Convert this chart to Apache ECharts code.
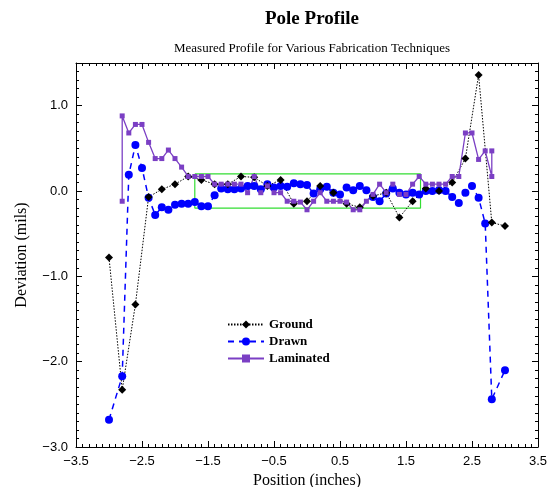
<!DOCTYPE html>
<html>
<head>
    <meta charset="utf-8" />
    <title>Pole Profile</title>
    <script src="https://cdn.jsdelivr.net/npm/echarts@6/dist/echarts.min.js"></script>
    <style>
        html, body { margin: 0; padding: 0; background: #fff; }
        #chart { width: 548px; height: 487px; }
    </style>
</head>
<body>
    <div id="chart"></div>
    <script type="text/javascript">
        // Ground: every 0.2 in
        var groundX = [-3.0, -2.8, -2.6, -2.4, -2.2, -2.0, -1.8, -1.6, -1.4, -1.2, -1.0, -0.8, -0.6, -0.4, -0.2,
            0.0, 0.2, 0.4, 0.6, 0.8, 1.0, 1.2, 1.4, 1.6, 1.8, 2.0, 2.2, 2.4, 2.6, 2.8, 3.0];
        var groundY = [-0.78, -2.33, -1.33, -0.07, 0.02, 0.08, 0.17, 0.13, 0.08, 0.08, 0.17, 0.16, 0.06, 0.13, -0.15,
            -0.12, 0.06, -0.02, -0.15, -0.19, -0.06, -0.02, -0.31, -0.12, 0.03, 0.0, 0.10, 0.38, 1.36, -0.37, -0.41];

        // Drawn: every 0.1 in the middle
        var drawnX = [-3.0, -2.8, -2.7, -2.6, -2.5, -2.4, -2.3, -2.2, -2.1, -2.0, -1.9, -1.8, -1.7, -1.6, -1.5, -1.4,
            -1.3, -1.2, -1.1, -1.0, -0.9, -0.8, -0.7, -0.6, -0.5, -0.4, -0.3, -0.2, -0.1, 0.0,
            0.1, 0.2, 0.3, 0.4, 0.5, 0.6, 0.7, 0.8, 0.9, 1.0, 1.1, 1.2, 1.3, 1.4, 1.5, 1.6, 1.7,
            1.8, 1.9, 2.0, 2.1, 2.2, 2.3, 2.4, 2.5, 2.6, 2.7, 2.8, 3.0];
        var drawnY = [-2.68, -2.17, 0.19, 0.54, 0.27, -0.08, -0.28, -0.19, -0.22, -0.16, -0.15, -0.15, -0.13, -0.18, -0.18, -0.05,
            0.03, 0.02, 0.02, 0.03, 0.06, 0.06, 0.02, 0.08, 0.04, 0.06, 0.05, 0.09, 0.08, 0.07,
            -0.03, 0.02, 0.05, -0.02, -0.04, 0.04, 0.01, 0.06, 0.01, -0.07, -0.12, -0.03, 0.03, -0.02, -0.04, -0.02, -0.04,
            0.0, 0.0, 0.01, 0.0, -0.07, -0.14, -0.02, 0.06, -0.08, -0.38, -2.44, -2.10];

        // Laminated
        var lamX = [-2.8, -2.8, -2.7, -2.6, -2.5, -2.4, -2.3, -2.2, -2.1, -2.0, -1.9, -1.8, -1.7, -1.6, -1.5, -1.4,
            -1.3, -1.2, -1.1, -1.0, -0.9, -0.8, -0.7, -0.6, -0.5, -0.4, -0.3, -0.2, -0.1, 0.0,
            0.1, 0.2, 0.3, 0.4, 0.5, 0.6, 0.7, 0.8, 0.9, 1.0, 1.1, 1.2, 1.3, 1.4, 1.5, 1.6, 1.7,
            1.8, 1.9, 2.0, 2.1, 2.2, 2.3, 2.4, 2.5, 2.6, 2.7, 2.8, 2.8];
        var lamY = [-0.12, 0.88, 0.68, 0.78, 0.78, 0.57, 0.38, 0.38, 0.48, 0.38, 0.28, 0.17, 0.17, 0.17, 0.17, 0.08,
            0.08, 0.08, 0.08, 0.08, -0.02, 0.17, -0.02, 0.06, -0.02, -0.02, -0.12, -0.12, -0.13, -0.22,
            -0.12, -0.02, -0.12, -0.12, -0.12, -0.13, -0.22, -0.22, -0.12, -0.04, 0.08, -0.02, 0.08, -0.04, -0.04, 0.08, 0.17,
            0.08, 0.08, 0.08, 0.08, 0.17, 0.17, 0.68, 0.68, 0.37, 0.47, 0.17, 0.47];

        // tolerance band
        var bandX = [-1.7, 1.72, 1.72, -1.7, -1.7];
        var bandY = [0.2, 0.2, -0.2, -0.2, 0.2];

        var xLabels = [-3.5, -2.5, -1.5, -0.5, 0.5, 1.5, 2.5, 3.5];

        function pairs(xs, ys) {
            return xs.map(function (x, i) { return [x, ys[i]]; });
        }
        function fmt(v) {
            return v.toFixed(1).replace('-', '\u2212');
        }

        var serif = '"Liberation Serif", "DejaVu Serif", serif';
        var sans = '"Liberation Sans", Arial, sans-serif';

        var lineStyle = { show: true, onZero: false, lineStyle: { color: '#000', width: 1 } };
        var tickStyle = { show: true, inside: true, length: 6, lineStyle: { color: '#000', width: 1 } };
        var minorStyle = { show: true, splitNumber: 10, length: 3, lineStyle: { color: '#000', width: 1 } };

        var chart = echarts.init(document.getElementById('chart'), null, { renderer: 'canvas' });
        chart.setOption({
            animation: false,
            backgroundColor: '#fff',
            title: [{
                text: 'Pole Profile',
                left: 307, top: 5, textAlign: 'center',
                textStyle: { fontFamily: serif, fontSize: 19, fontWeight: 'bold', color: '#000' }
            }, {
                text: 'Measured Profile for Various Fabrication Techniques',
                left: 307, top: 37, textAlign: 'center',
                textStyle: { fontFamily: serif, fontSize: 13, fontWeight: 'normal', color: '#000' }
            }],
            grid: { left: 76, right: 10, top: 63, bottom: 40, containLabel: false, outerBoundsMode: 'none' },
            legend: {
                data: ['Ground', 'Drawn', 'Laminated'],
                orient: 'vertical',
                left: 222, top: 313,
                itemWidth: 36, itemHeight: 10, itemGap: 4,
                textStyle: { fontFamily: serif, fontSize: 13, fontWeight: 'bold', color: '#000' }
            },
            xAxis: [{
                type: 'value', min: -3.5, max: 3.5, interval: 1,
                name: 'Position (inches)', nameLocation: 'middle', nameGap: 23,
                nameTextStyle: { fontFamily: serif, fontSize: 16, color: '#000' },
                axisLine: lineStyle,
                axisTick: tickStyle, minorTick: minorStyle,
                splitLine: { show: false },
                axisLabel: {
                    margin: 8, fontFamily: sans, fontSize: 13, color: '#000',
                    customValues: xLabels, formatter: fmt
                }
            }, {
                type: 'value', position: 'top', min: -3.5, max: 3.5, interval: 1,
                axisLine: lineStyle,
                axisTick: tickStyle, minorTick: minorStyle,
                splitLine: { show: false }, axisLabel: { show: false }
            }],
            yAxis: [{
                type: 'value', min: -3, max: 1.5, interval: 1,
                name: 'Deviation (mils)', nameLocation: 'middle', nameGap: 46, nameRotate: 90,
                nameTextStyle: { fontFamily: serif, fontSize: 16, color: '#000' },
                axisLine: lineStyle,
                axisTick: tickStyle, minorTick: minorStyle,
                splitLine: { show: false },
                axisLabel: {
                    margin: 8, fontFamily: sans, fontSize: 13, color: '#000',
                    showMaxLabel: false, formatter: fmt
                }
            }, {
                type: 'value', position: 'right', min: -3, max: 1.5, interval: 1,
                axisLine: lineStyle,
                axisTick: tickStyle, minorTick: minorStyle,
                splitLine: { show: false }, axisLabel: { show: false }
            }],
            series: [
                {
                    name: 'band', type: 'line', data: pairs(bandX, bandY),
                    symbol: 'none', silent: true,
                    lineStyle: { color: '#33dd33', width: 1.2 }
                },
                {
                    name: 'Drawn', type: 'line', data: pairs(drawnX, drawnY),
                    symbol: 'circle', symbolSize: 8,
                    itemStyle: { color: '#0000ff' },
                    lineStyle: { color: '#0000ff', width: 1.5, type: [6, 5] }
                },
                {
                    name: 'Ground', type: 'line', data: pairs(groundX, groundY),
                    symbol: 'diamond', symbolSize: 8,
                    itemStyle: { color: '#000' },
                    lineStyle: { color: '#000', width: 1, type: [1.5, 1.5] }
                },
                {
                    name: 'Laminated', type: 'line', data: pairs(lamX, lamY),
                    symbol: 'rect', symbolSize: 5,
                    itemStyle: { color: '#7b3fc4' },
                    lineStyle: { color: '#7b3fc4', width: 1.3 }
                }
            ]
        });
    </script>
</body>
</html>
